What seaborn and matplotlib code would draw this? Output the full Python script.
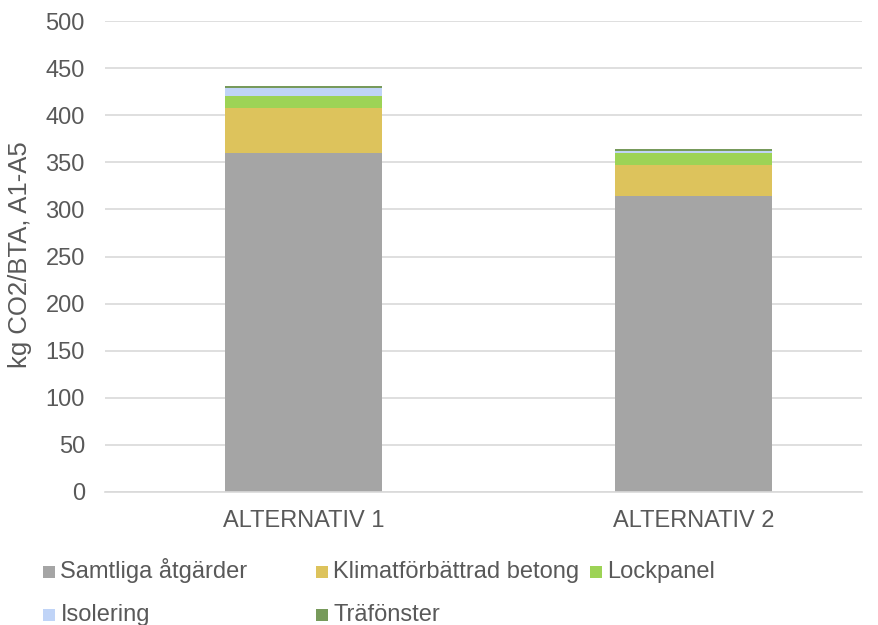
import numpy as np
import pandas as pd
import seaborn as sns
import matplotlib.pyplot as plt
from matplotlib.patches import Rectangle

# Data
categories = ["ALTERNATIV 1", "ALTERNATIV 2"]
series_names = ["Samtliga åtgärder", "Klimatförbättrad betong", "Lockpanel", "Isolering", "Träfönster"]
samtliga = [360, 314.5]
klimat = [48, 32.6]
lockpanel = [12.4, 12.8]
isolering = [8.8, 2.1]
trafonster = [1.8, 2.1]
colors = ["#A5A5A5", "#DDC35C", "#9DD356", "#C0D4F7", "#779A5B"]

sns.set_style("white")
plt.rcParams['font.family'] = ['Liberation Sans', 'DejaVu Sans']
text_color = "#595959"
fs = 17
W, H = 879, 625

fig = plt.figure(figsize=(W / 100, H / 100), dpi=100)
ax = fig.add_axes([105 / W, 1 - 492 / H, 757 / W, 471 / H])

layers = [samtliga, klimat, lockpanel, isolering, trafonster]
bottom = np.zeros(len(categories))
for name, vals, col in zip(series_names, layers, colors):
    df = pd.DataFrame({"cat": categories, "val": vals})
    sns.barplot(data=df, x="cat", y="val", color=col, width=0.403,
                bottom=bottom, ax=ax, linewidth=0, saturation=1)
    bottom = bottom + np.array(vals)

ax.set_xlim(-0.509, 1.432)
ax.set_ylim(0, 500)
ax.set_yticks(np.arange(0, 501, 50))
ax.grid(axis="y", color="#D9D9D9", linewidth=1.2)
ax.set_axisbelow(True)
for s in ["top", "right", "left"]:
    ax.spines[s].set_visible(False)
ax.spines["bottom"].set_color("#D9D9D9")
ax.spines["bottom"].set_linewidth(1.2)
ax.tick_params(axis="both", length=0, labelsize=fs, colors=text_color)
ax.tick_params(axis="y", pad=14.5)
ax.tick_params(axis="x", pad=13)
ax.set_xlabel("")
ax.set_ylabel("kg CO2/BTA, A1-A5", fontsize=18.5, color=text_color)
ax.yaxis.set_label_coords(-73 / 757, 0.505)

# Legend laid out by hand: two rows, fixed column positions as in the original
# (x of marker, text baseline)
legend_pos = [(43, 578), (316, 578), (590, 578), (43, 621), (316, 621)]
box = 12.5
for name, col, (px, base) in zip(series_names, colors, legend_pos):
    fig.add_artist(Rectangle((px / W, 1 - base / H), box / W, box / H,
                             facecolor=col, edgecolor="none", transform=fig.transFigure))
    fig.text((px + box + 5) / W, 1 - base / H, name, fontsize=fs, color=text_color,
             ha="left", va="baseline")

fig.savefig("out.png", dpi=100)
